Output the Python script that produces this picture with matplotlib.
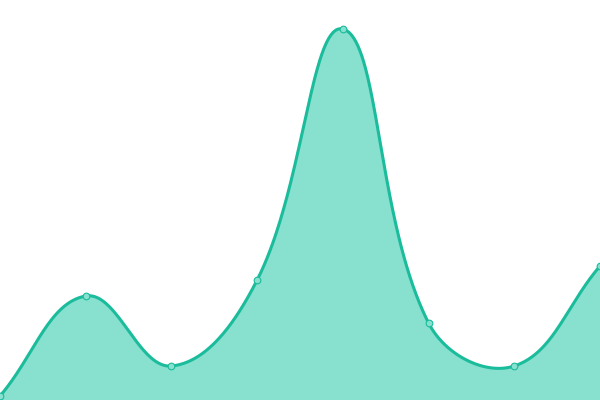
import numpy as np
import matplotlib
matplotlib.use("Agg")
import matplotlib.pyplot as plt

# values (pixel height from the bottom)
x_vals = [0, 1, 2, 3, 4, 5, 6, 7]
y_vals = [4, 104, 34, 120, 371, 77, 34, 134]

line_color = "#1abc9c"
fill_color = "#88e0cf"

W, H = 600, 400
x_max, y_max = 7, 400
tension = 0.4


def spline_curve(x, y, t=tension, steps=80):
    # bezier smoothing with distance-weighted control points, done in pixels
    px = np.asarray(x, dtype=float) * W / x_max
    py = np.asarray(y, dtype=float) * H / y_max
    pts = np.column_stack([px, py])
    n = len(pts)
    cp_prev = pts.copy()
    cp_next = pts.copy()
    for i in range(n):
        prev = pts[max(i - 1, 0)]
        cur = pts[i]
        nxt = pts[min(i + 1, n - 1)]
        d01 = np.hypot(*(cur - prev))
        d12 = np.hypot(*(nxt - cur))
        tot = d01 + d12
        s01 = d01 / tot if tot else 0
        s12 = d12 / tot if tot else 0
        cp_prev[i] = cur - t * s01 * (nxt - prev)
        cp_next[i] = cur + t * s12 * (nxt - prev)
    # keep control points inside the plot area
    cp_prev[:, 0] = np.clip(cp_prev[:, 0], 0, W)
    cp_next[:, 0] = np.clip(cp_next[:, 0], 0, W)
    cp_prev[:, 1] = np.clip(cp_prev[:, 1], 0, H)
    cp_next[:, 1] = np.clip(cp_next[:, 1], 0, H)
    out = []
    s = np.linspace(0, 1, steps)[:, None]
    for i in range(n - 1):
        p1, c1, c2, p2 = pts[i], cp_next[i], cp_prev[i + 1], pts[i + 1]
        seg = ((1 - s) ** 3 * p1 + 3 * (1 - s) ** 2 * s * c1
               + 3 * (1 - s) * s**2 * c2 + s**3 * p2)
        out.append(seg if i == 0 else seg[1:])
    curve = np.vstack(out)
    return curve[:, 0] * x_max / W, curve[:, 1] * y_max / H


sx, sy = spline_curve(x_vals, y_vals)

fig = plt.figure(figsize=(6, 4), dpi=100)
ax = fig.add_axes([0, 0, 1, 1])
ax.fill_between(sx, 0, sy, color=fill_color, linewidth=0)
ax.plot(sx, sy, color=line_color, linewidth=2.2, solid_capstyle="round")
ax.plot(x_vals, y_vals, "o", markersize=4.8, markerfacecolor=fill_color,
        markeredgecolor=line_color, markeredgewidth=0.8, clip_on=False)
ax.set_xlim(0, x_max)
ax.set_ylim(0, y_max)
ax.axis("off")

fig.savefig("out.png", dpi=100)
